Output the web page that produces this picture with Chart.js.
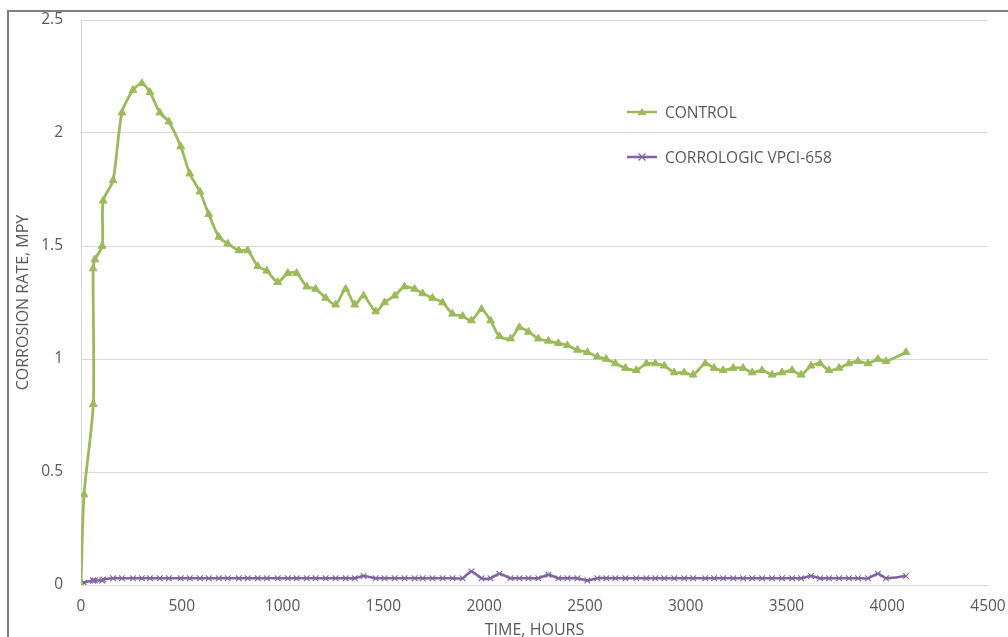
<!DOCTYPE html>
<html>
<head>
    <title>Corrosion Rate</title>
    <script src="https://cdn.jsdelivr.net/npm/chart.js"></script>
    <style>
        body {
            margin: 0;
            background: #fff;
            font-family: 'Open Sans', Arial, sans-serif;
        }
        .wrap {
            position: relative;
            width: 1008px;
            height: 637px;
            overflow: hidden;
        }
        .frame {
            position: absolute;
            left: 7px;
            top: 10px;
            width: 1010px;
            height: 640px;
            border-top: 2px solid #808080;
            border-left: 2px solid #808080;
        }
        canvas { position: absolute; left: 0; top: 0; }
        .legend-item {
            position: absolute;
            left: 627px;
            display: flex;
            align-items: center;
            gap: 8px;
            font-size: 15.5px;
            color: #595959;
        }
    </style>
</head>
<body>
<div class="wrap">
    <div class="frame"></div>
    <canvas id="rateChart" width="1008" height="637"></canvas>
    <div class="legend-item" style="top:101px">
        <svg width="30" height="12"><line x1="0" y1="6" x2="30" y2="6" stroke="#9BBB59" stroke-width="2.5"/><polygon points="15,2 19.5,9 10.5,9" fill="#9BBB59"/></svg>
        <span>CONTROL</span>
    </div>
    <div class="legend-item" style="top:146px">
        <svg width="30" height="12"><line x1="0" y1="6" x2="30" y2="6" stroke="#8064A2" stroke-width="2.5"/><path d="M11.5,2.5 L18.5,9.5 M18.5,2.5 L11.5,9.5" stroke="#8064A2" stroke-width="1.2"/></svg>
        <span>CORROLOGIC VPCI-658</span>
    </div>
</div>

<script>
    // time in hours
    const timeHours = [0, 15, 61, 60, 69, 105, 110, 159, 203, 258,
        302, 342, 391, 436, 495, 540, 590, 634, 684, 728,
        783, 827, 877, 922, 976, 1026, 1070, 1120, 1164, 1214,
        1263, 1313, 1358, 1402, 1462, 1506, 1556, 1605, 1655, 1695,
        1744, 1794, 1843, 1893, 1937, 1987, 2032, 2076, 2131, 2175,
        2220, 2269, 2319, 2368, 2413, 2463, 2512, 2562, 2606, 2651,
        2701, 2755, 2805, 2849, 2894, 2943, 2993, 3037, 3097, 3141,
        3186, 3236, 3285, 3330, 3379, 3429, 3478, 3528, 3573, 3622,
        3667, 3711, 3761, 3810, 3855, 3905, 3954, 3994, 4093];

    const controlRate = [0, 0.40, 0.80, 1.40, 1.44, 1.50, 1.70, 1.79, 2.09, 2.19,
        2.22, 2.18, 2.09, 2.05, 1.94, 1.82, 1.74, 1.64, 1.54, 1.51,
        1.48, 1.48, 1.41, 1.39, 1.34, 1.38, 1.38, 1.32, 1.31, 1.27,
        1.24, 1.31, 1.24, 1.28, 1.21, 1.25, 1.28, 1.32, 1.31, 1.29,
        1.27, 1.25, 1.20, 1.19, 1.17, 1.22, 1.17, 1.10, 1.09, 1.14,
        1.12, 1.09, 1.08, 1.07, 1.06, 1.04, 1.03, 1.01, 1.00, 0.98,
        0.96, 0.95, 0.98, 0.98, 0.97, 0.94, 0.94, 0.93, 0.98, 0.96,
        0.95, 0.96, 0.96, 0.94, 0.95, 0.93, 0.94, 0.95, 0.93, 0.97,
        0.98, 0.95, 0.96, 0.98, 0.99, 0.98, 1.00, 0.99, 1.03];

    const vpciRate = [0, 0.01, 0.02, 0.02, 0.02, 0.02, 0.025, 0.03, 0.03, 0.03,
        0.03, 0.03, 0.03, 0.03, 0.03, 0.03, 0.03, 0.03, 0.03, 0.03,
        0.03, 0.03, 0.03, 0.03, 0.03, 0.03, 0.03, 0.03, 0.03, 0.03,
        0.03, 0.03, 0.03, 0.04, 0.03, 0.03, 0.03, 0.03, 0.03, 0.03,
        0.03, 0.03, 0.03, 0.03, 0.06, 0.03, 0.03, 0.05, 0.03, 0.03,
        0.03, 0.03, 0.045, 0.03, 0.03, 0.03, 0.02, 0.03, 0.03, 0.03,
        0.03, 0.03, 0.03, 0.03, 0.03, 0.03, 0.03, 0.03, 0.03, 0.03,
        0.03, 0.03, 0.03, 0.03, 0.03, 0.03, 0.03, 0.03, 0.03, 0.04,
        0.03, 0.03, 0.03, 0.03, 0.03, 0.03, 0.05, 0.03, 0.04];

    const seriesNames = ['CONTROL', 'CORROLOGIC VPCI-658'];

    function toPoints(values) {
        return timeHours.map((t, i) => ({ x: t, y: values[i] }));
    }

    const tickFont = { family: "'Open Sans', sans-serif", size: 15.5 };
    const titleFont = { family: "'Open Sans', sans-serif", size: 16 };

    new Chart(document.getElementById('rateChart'), {
        type: 'scatter',
        data: {
            datasets: [{
                label: seriesNames[0],
                data: toPoints(controlRate),
                showLine: true,
                borderColor: '#9BBB59',
                backgroundColor: '#9BBB59',
                borderWidth: 2.8,
                tension: 0.25,
                pointStyle: 'triangle',
                pointRadius: 4.5,
                pointBorderWidth: 1,
                pointBackgroundColor: '#9BBB59'
            }, {
                label: seriesNames[1],
                data: toPoints(vpciRate),
                showLine: true,
                borderColor: '#8064A2',
                backgroundColor: '#8064A2',
                borderWidth: 2.6,
                tension: 0.25,
                pointStyle: 'crossRot',
                pointRadius: 4,
                pointBorderWidth: 1.1
            }]
        },
        options: {
            responsive: false,
            animation: false,
            layout: { padding: { left: 0, top: 20, right: 20, bottom: 0 } },
            plugins: {
                legend: { display: false },
                tooltip: { enabled: false }
            },
            scales: {
                x: {
                    type: 'linear',
                    min: 0,
                    max: 4500,
                    afterFit: s => {
                        s.height = 52;
                        s.paddingLeft = 0;
                        s.paddingRight = 0;
                    },
                    grid: { display: false, drawTicks: false },
                    border: { display: true, color: '#d9d9d9', width: 1 },
                    ticks: {
                        stepSize: 500,
                        padding: 12,
                        color: '#595959',
                        font: tickFont,
                        maxRotation: 0,
                        callback: v => String(v)
                    },
                    title: {
                        display: true,
                        text: 'TIME, HOURS',
                        color: '#595959',
                        font: titleFont,
                        padding: { top: 0, bottom: -3 }
                    }
                },
                y: {
                    min: 0,
                    max: 2.5,
                    afterFit: s => {
                        s.width = 81;
                        s.paddingTop = 0;
                        s.paddingBottom = 0;
                    },
                    grid: { color: '#d9d9d9', drawTicks: false },
                    border: { display: true, color: '#d9d9d9', width: 1 },
                    ticks: {
                        stepSize: 0.5,
                        padding: 18,
                        color: '#595959',
                        font: tickFont,
                        callback: v => String(v)
                    },
                    title: {
                        display: true,
                        text: 'CORROSION RATE, MPY',
                        color: '#595959',
                        font: titleFont,
                        padding: { top: 14, bottom: 0 }
                    }
                }
            }
        }
    });
</script>
</body>
</html>
